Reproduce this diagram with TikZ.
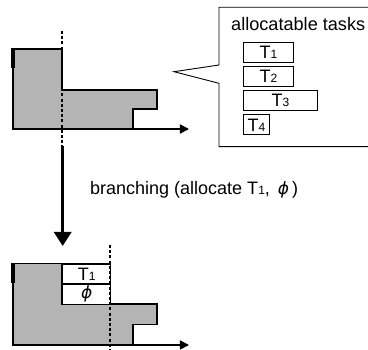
\documentclass[tikz,border=0pt]{standalone}
\usepackage{fontspec}
\setmainfont{Liberation Sans}
\newfontfamily\greekfont{DejaVu Sans}
\usetikzlibrary{arrows.meta}

% task label: capital T with a small digit on the same baseline
\newcommand{\tsk}[1]{T{\fontsize{12}{12}\selectfont #1}}
% slanted straight phi
\newcommand{\phisym}{{\greekfont\itshape\fontsize{17}{17}\selectfont ϕ}}

\begin{document}
\begin{tikzpicture}[x=1pt,y=-1pt,
  font=\fontsize{18}{20}\selectfont,
  profile/.style={draw=black,line width=1.3pt,fill={rgb,255:red,180;green,180;blue,180}},
  axisline/.style={line width=1.6pt,-{Triangle[width=9pt,length=9pt]}},
  cut/.style={line width=2pt,dash pattern=on 3pt off 2.2pt},
  taskbox/.style={draw=black,line width=0.9pt,minimum height=20pt,inner sep=0pt,anchor=north west},
  slotbox/.style={draw=black,line width=1.3pt,fill=white,inner sep=0pt,anchor=north west},
  bigarrow/.style={line width=3.4pt,-{Triangle[width=17pt,length=14pt]}}
]
\useasboundingbox (0,0) rectangle (368,350);

% ---------- upper schedule ----------
\draw[profile] (13,49) -- (62,49) -- (62,90) -- (157,90) -- (157,109)
  -- (133,109) -- (133,129) -- (13,129) -- cycle;
\fill (11.5,48.3) rectangle (15,68);
\coordinate (o1) at (13,129);
\coordinate (x1) at (189,129);
\draw[axisline] (o1) -- (x1);
\coordinate (c1a) at (62,31);
\coordinate (c1b) at (62,149);
\draw[cut] (c1a) -- (c1b);

% ---------- callout with allocatable tasks ----------
\draw[line width=0.9pt,line join=miter]
  (368,7.3) -- (219,7.3) -- (219,65) -- (174,71.7) -- (219,83.3)
  -- (219,146.7) -- (368,146.7);
\node[anchor=base west,inner sep=0pt] (title) at (231,30.7)
  {\resizebox{134pt}{!}{allocatable tasks}};
\node[taskbox,minimum width=50.6pt] (t1) at (242.7,41.7) {\tsk{1}};
\node[taskbox,minimum width=50.6pt] (t2) at (242.7,66.2) {\tsk{2}};
\node[taskbox,minimum width=74.6pt] (t3) at (242.7,90.2) {\tsk{3}};
\node[taskbox,minimum width=26.6pt] (t4) at (242.7,114.5) {\tsk{4}};

% ---------- branching step ----------
\coordinate (btop) at (62.7,146);
\coordinate (bbot) at (62.7,246);
\draw[bigarrow] (btop) -- (bbot);
\node[anchor=base west,inner sep=0pt] (branch) at (90,194.3)
  {branching (allocate \tsk{1},\ \,\phisym\,)};

% ---------- lower schedule ----------
\draw[profile] (13,263.3) -- (62,263.3) -- (62,304) -- (157,304) -- (157,324.3)
  -- (133,324.3) -- (133,345) -- (13,345) -- cycle;
\fill (11.5,262.6) rectangle (15,282.7);
\node[slotbox,minimum width=48pt,minimum height=20pt] (s1) at (62,263.3) {\tsk{1}};
\node[slotbox,minimum width=48pt,minimum height=20.7pt] (s2) at (62,283.3) {\phisym};
\coordinate (o2) at (13,345);
\coordinate (x2) at (189,345);
\draw[axisline] (o2) -- (x2);
\coordinate (c2a) at (110,245);
\coordinate (c2b) at (110,350);
\draw[cut] (c2a) -- (c2b);
\end{tikzpicture}
\end{document}
